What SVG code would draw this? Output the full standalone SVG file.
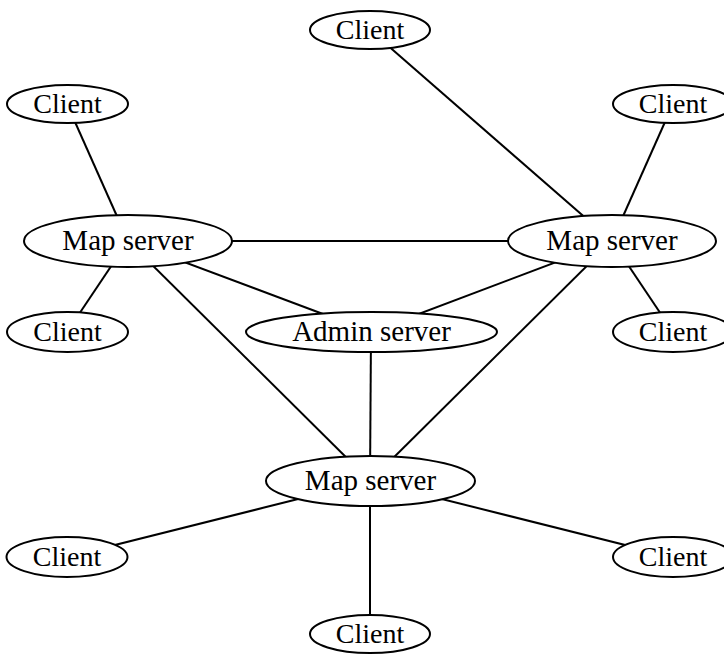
<svg xmlns="http://www.w3.org/2000/svg" width="724" height="656" viewBox="0 0 724 656">
  <style>
    .edge { stroke: #000; stroke-width: 2; fill: none; }
    .node ellipse { fill: #fff; stroke: #000; stroke-width: 2; }
    .node text { font-family: "Liberation Serif", "Times New Roman", serif; font-size: 28px; fill: #000; text-anchor: middle; }
    .node text.server { font-size: 29px; }
  </style>
  <rect width="724" height="656" fill="#fff"/>

  <!-- connectors, drawn centre to centre beneath the nodes -->
  <g id="edges">
    <line class="edge" x1="370" y1="30" x2="612" y2="241"/>
    <line class="edge" x1="67" y1="104" x2="128" y2="241"/>
    <line class="edge" x1="673" y1="104" x2="612" y2="241"/>
    <line class="edge" x1="128" y1="241" x2="612" y2="241"/>
    <line class="edge" x1="128" y1="241" x2="371" y2="332"/>
    <line class="edge" x1="612" y1="241" x2="371" y2="332"/>
    <line class="edge" x1="128" y1="241" x2="67" y2="332"/>
    <line class="edge" x1="612" y1="241" x2="673" y2="332"/>
    <line class="edge" x1="128" y1="241" x2="370" y2="481"/>
    <line class="edge" x1="612" y1="241" x2="370" y2="481"/>
    <line class="edge" x1="371" y1="332" x2="370" y2="481"/>
    <line class="edge" x1="370" y1="481" x2="67" y2="557"/>
    <line class="edge" x1="370" y1="481" x2="673" y2="557"/>
    <line class="edge" x1="370" y1="481" x2="370" y2="634"/>
  </g>

  <g id="client-top" class="node">
    <ellipse cx="370" cy="30" rx="60" ry="19"/>
    <text x="370" y="39">Client</text>
  </g>
  <g id="client-left-upper" class="node">
    <ellipse cx="67.5" cy="104" rx="60.5" ry="19"/>
    <text x="67.5" y="113">Client</text>
  </g>
  <g id="client-right-upper" class="node">
    <ellipse cx="673" cy="104" rx="60" ry="19"/>
    <text x="673" y="113">Client</text>
  </g>
  <g id="map-left" class="node">
    <ellipse cx="128" cy="241" rx="104" ry="26"/>
    <text class="server" x="128" y="250">Map server</text>
  </g>
  <g id="map-right" class="node">
    <ellipse cx="612" cy="241" rx="104" ry="26"/>
    <text class="server" x="612" y="250">Map server</text>
  </g>
  <g id="client-left-middle" class="node">
    <ellipse cx="67.5" cy="332" rx="60.5" ry="20"/>
    <text x="67.5" y="341">Client</text>
  </g>
  <g id="admin" class="node">
    <ellipse cx="371.5" cy="332" rx="125.5" ry="20"/>
    <text class="server" x="371.5" y="341">Admin server</text>
  </g>
  <g id="client-right-middle" class="node">
    <ellipse cx="673" cy="332" rx="60" ry="20"/>
    <text x="673" y="341">Client</text>
  </g>
  <g id="map-bottom" class="node">
    <ellipse cx="370.5" cy="481" rx="104.5" ry="25"/>
    <text class="server" x="370.5" y="490">Map server</text>
  </g>
  <g id="client-left-lower" class="node">
    <ellipse cx="67" cy="557" rx="60.5" ry="20"/>
    <text x="67" y="566">Client</text>
  </g>
  <g id="client-right-lower" class="node">
    <ellipse cx="673" cy="557" rx="60" ry="20"/>
    <text x="673" y="566">Client</text>
  </g>
  <g id="client-bottom" class="node">
    <ellipse cx="370" cy="634" rx="60" ry="19"/>
    <text x="370" y="643">Client</text>
  </g>
</svg>
